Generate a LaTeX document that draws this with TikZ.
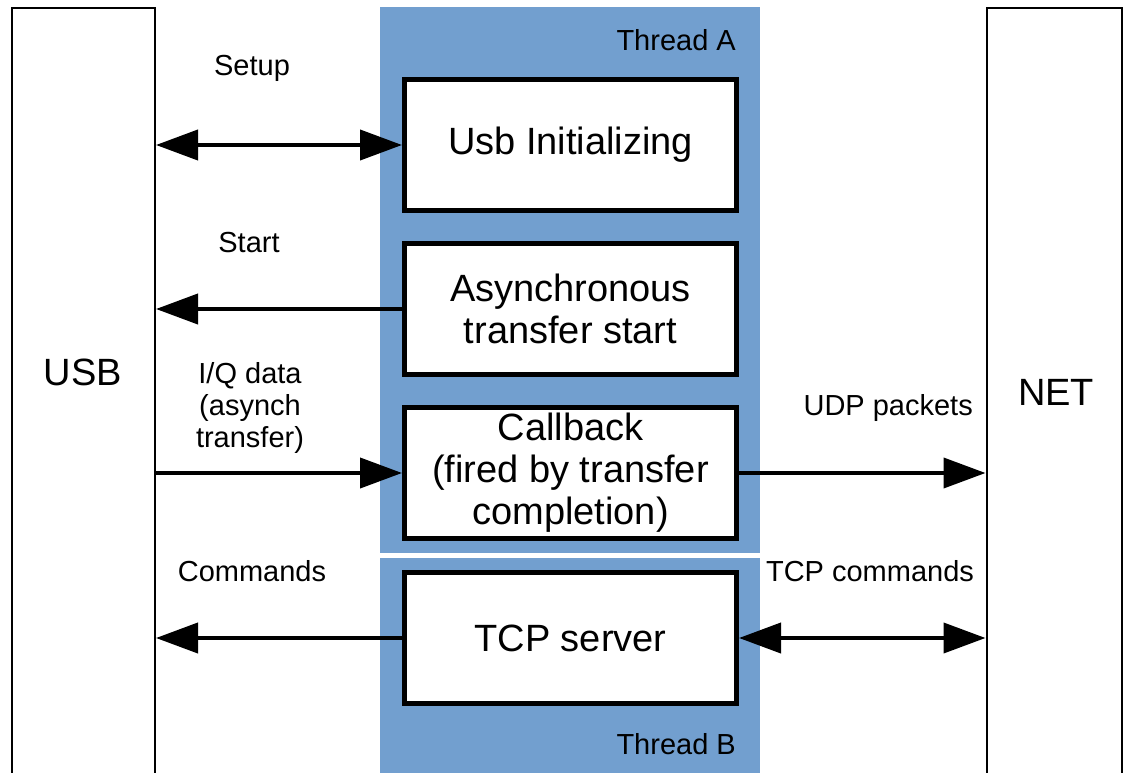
\documentclass[tikz,border=0pt]{standalone}
\usepackage{fontspec}
\setmainfont{Liberation Sans}
\usetikzlibrary{arrows.meta}
\definecolor{threadblue}{HTML}{729FCF}
\tikzset{
  side/.style={draw=black, line width=2pt, fill=white, minimum height=792pt, inner sep=0pt},
  thread/.style={fill=threadblue, minimum width=380pt, inner sep=0pt},
  stage/.style={draw=black, line width=5pt, fill=white, minimum width=332pt, minimum height=131pt,
    inner sep=0pt, align=center, font=\fontsize{38pt}{42pt}\selectfont},
  big/.style={font=\fontsize{38pt}{42pt}\selectfont},
  lbl/.style={font=\fontsize{29pt}{32pt}\selectfont, align=center, inner sep=0pt},
  flow/.style={line width=4pt, -{Triangle[length=42pt,width=30pt]}},
  both/.style={line width=4pt, {Triangle[length=42pt,width=30pt]}-{Triangle[length=42pt,width=30pt]}}
}
\begin{document}
\begin{tikzpicture}[x=1pt,y=-1pt]
\useasboundingbox (0,0) rectangle (1125,773);

% side blocks, open at the bottom
\node[side, minimum width=143pt] (usb) at (83.5,404) {};
\node[side, minimum width=135pt] (net) at (1054,404) {};
\node[big] (usbtxt) at (83,372) {USB};
\node[big] (nettxt) at (1056,392) {NET};

% thread backgrounds
\node[thread, minimum height=546pt] (ta) at (570,280) {};
\node[thread, minimum height=216pt] (tb) at (570,666) {};
\node[lbl, anchor=east] (talbl) at (736,40) {Thread A};
\node[lbl, anchor=east] (tblbl) at (736,744) {Thread B};

% processing stages (text nudged down to sit optically centred)
\node[stage] (init) at (570.5,145) {\raisebox{-4pt}{Usb Initializing}};
\node[stage] (async) at (570.5,309) {Asynchronous\\transfer start};
\node[stage] (cb) at (570.5,473) {Callback\\(fired by transfer\\completion)};
\node[stage] (tcp) at (570.5,638) {\raisebox{-3pt}{TCP server}};

% connectors
\draw[both] (usb.east |- init.west) -- (init.west);
\draw[flow] (async.west) -- (usb.east |- async.west);
\draw[flow] (usb.east |- cb.west) -- (cb.west);
\draw[flow] (cb.east) -- (net.west |- cb.east);
\draw[flow] (tcp.west) -- (usb.east |- tcp.west);
\draw[both] (tcp.east) -- (net.west |- tcp.east);

% connector labels
\node[lbl] (setup) at (252,68) {Setup};
\node[lbl] (start) at (249,243) {Start};
\node[lbl] (iq) at (250,408) {I/Q data\\(asynch\\transfer)};
\node[lbl] (cmd) at (252,571) {Commands};
\node[lbl, anchor=east] (udp) at (973,408) {UDP packets};
\node[lbl] (tcpcmd) at (870,571) {TCP commands};
\end{tikzpicture}
\end{document}
